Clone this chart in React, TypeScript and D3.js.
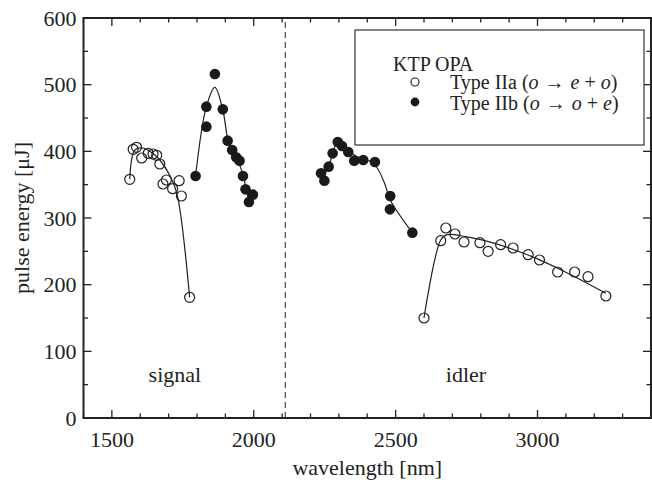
import * as d3 from "d3";

const W = 652;
const H = 483;
const margin = { top: 18, right: 1, bottom: 65, left: 83.5 };

const xDomain = [1400, 3400];
const yDomain = [0, 600];
const xMajor = [1500, 2000, 2500, 3000];
const yMajor = [0, 100, 200, 300, 400, 500, 600];
const degeneracy = 2111;

// type IIa (open circles)
const signalOpen = [
  [1563, 358], [1575, 403], [1587, 406], [1605, 390], [1628, 397], [1645, 396],
  [1658, 394], [1669, 381], [1680, 351], [1692, 357], [1714, 344], [1737, 356],
  [1745, 333], [1774, 181],
];
const idlerOpen = [
  [2600, 150], [2659, 266], [2677, 285], [2709, 276], [2741, 264], [2797, 263],
  [2826, 250], [2870, 260], [2914, 255], [2967, 245], [3007, 237], [3071, 219],
  [3131, 219], [3178, 212], [3241, 183],
];
// type IIb (filled circles)
const signalFilled = [
  [1795, 363], [1833, 437], [1833, 467], [1863, 516], [1891, 463], [1908, 416],
  [1924, 402], [1938, 391], [1950, 386], [1962, 363], [1971, 343], [1997, 335],
  [1983, 324],
];
const idlerFilled = [
  [2237, 367], [2249, 356], [2264, 377], [2278, 397], [2296, 414], [2311, 408],
  [2333, 399], [2354, 386], [2386, 387], [2427, 384], [2481, 333], [2480, 313],
  [2559, 278],
];

// guide-to-the-eye curves
const signalOpenFit = [
  [1563, 358], [1581, 402], [1609, 405], [1644, 397], [1669, 387], [1704, 364],
  [1729, 337], [1774, 181],
];
const signalFilledFit = [
  [1795, 363], [1833, 467], [1863, 496], [1891, 462], [1909, 417], [1927, 397],
  [1944, 385], [1962, 365], [1974, 342], [1983, 324],
];
const idlerFilledFit = [
  [2243, 362], [2264, 377], [2278, 397], [2296, 414], [2330, 402], [2365, 392],
  [2407, 386], [2435, 375], [2463, 350], [2481, 327], [2559, 278],
];
const idlerOpenFit = [
  [2600, 150], [2659, 267], [2681, 275], [2747, 272], [2864, 260], [2981, 242],
  [3098, 219], [3241, 187],
];

const font = "'Liberation Serif', 'DejaVu Serif', serif";
const ink = "#222";

export default function App() {
  const x = d3.scaleLinear().domain(xDomain).range([margin.left, W - margin.right]);
  const y = d3.scaleLinear().domain(yDomain).range([H - margin.bottom, margin.top]);
  const [x0, x1] = x.range();
  const [y0, y1] = y.range();

  const line = d3
    .line<number[]>()
    .x((d) => x(d[0]))
    .y((d) => y(d[1]))
    .curve(d3.curveCatmullRom.alpha(0.5));

  const xMinor = d3.range(xDomain[0], xDomain[1] + 1, 100);
  const yMinor = d3.range(yDomain[0], yDomain[1] + 1, 50);

  const fits = [signalOpenFit, signalFilledFit, idlerFilledFit, idlerOpenFit];

  // "(a → b + c)" with italic symbols and math-like spacing
  const process = (a: string, b: string, c: string) => (
    <>
      <tspan dx={5}>(</tspan>
      <tspan fontStyle="italic">{a}</tspan>
      <tspan dx={6}>→</tspan>
      <tspan dx={6} fontStyle="italic">{b}</tspan>
      <tspan dx={5}>+</tspan>
      <tspan dx={5} fontStyle="italic">{c}</tspan>
      <tspan>)</tspan>
    </>
  );

  return (
    <svg
      width={W}
      height={H}
      style={{ position: "absolute", left: 0, top: 0, background: "#fff" }}
      fontFamily={font}
    >
      {/* dashed degeneracy line */}
      <line
        x1={x(degeneracy)}
        x2={x(degeneracy)}
        y1={y0}
        y2={y1}
        stroke={ink}
        strokeWidth={1}
        strokeDasharray="6,4"
      />

      {/* ticks, all inward, mirrored on top and right */}
      {xMinor.map((t) => {
        const len = xMajor.includes(t) ? 8 : 4.5;
        return (
          <g key={"xt" + t} stroke={ink} strokeWidth={1.3}>
            <line x1={x(t)} x2={x(t)} y1={y0} y2={y0 - len} />
            <line x1={x(t)} x2={x(t)} y1={y1} y2={y1 + len} />
          </g>
        );
      })}
      {yMinor.map((t) => {
        const len = yMajor.includes(t) ? 8 : 4.5;
        return (
          <g key={"yt" + t} stroke={ink} strokeWidth={1.3}>
            <line x1={x0} x2={x0 + len} y1={y(t)} y2={y(t)} />
            <line x1={x1} x2={x1 - len} y1={y(t)} y2={y(t)} />
          </g>
        );
      })}

      <rect
        x={x0}
        y={y1}
        width={x1 - x0}
        height={y0 - y1}
        fill="none"
        stroke={ink}
        strokeWidth={2}
      />

      {/* tick labels */}
      {xMajor.map((t) => (
        <text key={"xl" + t} x={x(t)} y={y0 + 29} textAnchor="middle" fontSize={22} fill={ink}>
          {t}
        </text>
      ))}
      {yMajor.map((t) => (
        <text
          key={"yl" + t}
          x={x0 - 7}
          y={y(t)}
          dy="0.35em"
          textAnchor="end"
          fontSize={22}
          fill={ink}
        >
          {t}
        </text>
      ))}

      {/* axis titles */}
      <text x={(x0 + x1) / 2} y={H - 8} textAnchor="middle" fontSize={22} fill={ink}>
        wavelength [nm]
      </text>
      <text
        transform={`translate(${29},${(y0 + y1) / 2}) rotate(-90)`}
        textAnchor="middle"
        fontSize={22}
        fill={ink}
      >
        pulse energy [μJ]
      </text>

      {/* region labels */}
      <text x={x(1722)} y={y(54)} textAnchor="middle" fontSize={22} fill={ink}>
        signal
      </text>
      <text x={x(2748)} y={y(54)} textAnchor="middle" fontSize={22} fill={ink}>
        idler
      </text>

      {fits.map((f, i) => (
        <path key={"f" + i} d={line(f) ?? ""} fill="none" stroke={ink} strokeWidth={1.2} />
      ))}

      {[...signalOpen, ...idlerOpen].map((d, i) => (
        <circle
          key={"o" + i}
          cx={x(d[0])}
          cy={y(d[1])}
          r={5}
          fill="none"
          stroke={ink}
          strokeWidth={1.2}
        />
      ))}
      {[...signalFilled, ...idlerFilled].map((d, i) => (
        <circle key={"c" + i} cx={x(d[0])} cy={y(d[1])} r={5.3} fill="#1a1a1a" />
      ))}

      {/* legend */}
      <g>
        <rect x={355} y={30} width={289} height={115} fill="#fff" stroke="#333" strokeWidth={1.2} />
        <text x={393} y={71} fontSize={20} fill={ink}>
          KTP OPA
        </text>
        <circle cx={415} cy={82} r={4} fill="none" stroke={ink} strokeWidth={1.2} />
        <text x={450} y={89} fontSize={20} fill={ink}>
          <tspan>Type IIa</tspan>
          {process("o", "e", "o")}
        </text>
        <circle cx={415} cy={102} r={4.4} fill="#1a1a1a" />
        <text x={450} y={110} fontSize={20} fill={ink}>
          <tspan>Type IIb</tspan>
          {process("o", "o", "e")}
        </text>
      </g>
    </svg>
  );
}
